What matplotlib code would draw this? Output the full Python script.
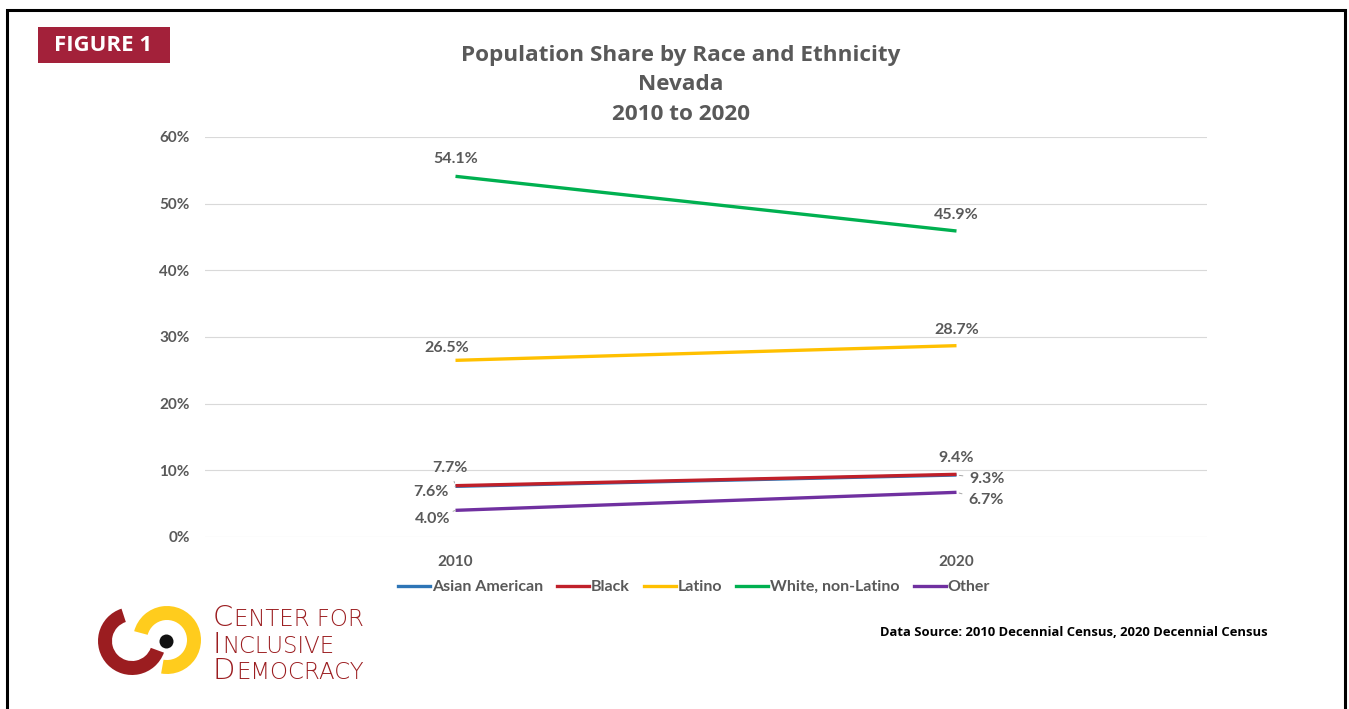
import matplotlib
matplotlib.use("Agg")
import matplotlib.pyplot as plt
from matplotlib.patches import Rectangle, Wedge, Circle
from matplotlib.lines import Line2D

years = ["2010", "2020"]
series = ["Asian American", "Black", "Latino", "White, non-Latino", "Other"]
asian = [7.6, 9.3]
black = [7.7, 9.4]
latino = [26.5, 28.7]
white = [54.1, 45.9]
other = [4.0, 6.7]
values = [asian, black, latino, white, other]
colors = ["#2E75B6", "#C0202A", "#FFC000", "#00B050", "#7030A0"]
yticks = [0, 10, 20, 30, 40, 50, 60]

W, H = 1349, 709
fig = plt.figure(figsize=(W / 100, H / 100), dpi=100)
fig.patch.set_facecolor("white")

# overlay in pixel coordinates (y up)
ov = fig.add_axes([0, 0, 1, 1])
ov.set_xlim(0, W)
ov.set_ylim(0, H)
ov.axis("off")

def py(y):
    return H - y

# frame
ov.add_patch(Rectangle((6.5, py(760)), 1338, 760 - 9.5, fill=False, ec="black", lw=2.2))

# Figure 1 badge
ov.add_patch(Rectangle((38, py(63)), 132, 36, fc="#A3213A", ec="none"))
ov.text(103, py(45.5), "FIGURE 1", color="white", fontsize=16, fontweight="bold",
        family="Open Sans", ha="center", va="center")

# title
title_lines = ["Population Share by Race and Ethnicity", "Nevada", "2010 to 2020"]
for i, t in enumerate(title_lines):
    ov.text(681, py(55 + i * 29.5), t, color="#595959", fontsize=16.2, fontweight="bold",
            family="Open Sans", ha="center", va="center")

# main axes
left, right = 205 / W, 1207 / W
bottom, top = 1 - 537 / H, 1 - 137 / H
ax = fig.add_axes([left, bottom, right - left, top - bottom])
ax.set_xlim(-0.5, 1.5)
ax.set_ylim(0, 60)
for s in ax.spines.values():
    s.set_visible(False)
ax.set_yticks(yticks)
ax.set_yticklabels([f"{v}%" for v in yticks])
ax.set_xticks([0, 1])
ax.set_xticklabels(years)
ax.tick_params(length=0, labelcolor="#595959", labelsize=11)
ax.tick_params(axis="y", pad=11)
ax.tick_params(axis="x", pad=13)
for lab in ax.get_xticklabels() + ax.get_yticklabels():
    lab.set_fontweight("bold")
    lab.set_family("Lato")
ax.grid(axis="y", color="#D9D9D9", lw=0.8)
ax.set_axisbelow(True)

xs = [0, 1]
order = [0, 2, 3, 4, 1]  # draw Black on top of Asian
for i in order:
    ax.plot(xs, values[i], color=colors[i], lw=2.4, solid_capstyle="butt", zorder=3)

label_kw = dict(color="#595959", fontsize=11.5, fontweight="bold", family="Lato",
                ha="center", va="center", textcoords="offset pixels")
leader = dict(arrowstyle="-", color="#A6A6A6", lw=0.7, shrinkA=3, shrinkB=2)
# (series index, point index, dx, dy, leader)
offsets = [
    (3, 0, 0, 17, False), (3, 1, 0, 16, False),
    (2, 0, -9, 12, False), (2, 1, 0, 16, False),
    (1, 0, -6, 18, True), (0, 0, -25, -6, True),
    (1, 1, 0, 16, False), (0, 1, 31, -4, True),
    (4, 0, -23, -9, True), (4, 1, 30, -8, True),
]
for si, pi, dx, dy, ld in offsets:
    v = values[si][pi]
    kw = dict(label_kw)
    if ld:
        kw["arrowprops"] = leader
    ax.annotate(f"{v:.1f}%", xy=(xs[pi], v), xytext=(dx, dy), zorder=5, **kw)

# legend
handles = [Line2D([0], [0], color=c, lw=2.4) for c in colors]
leg = fig.legend(handles, series, loc="center", bbox_to_anchor=(694 / W, 1 - 587 / H),
                 ncol=5, frameon=False, handlelength=2.0, handletextpad=0.1,
                 columnspacing=0.9, prop=dict(family="Lato", weight="bold", size=11.5))
for t in leg.get_texts():
    t.set_color("#595959")

# logo
red = "#9B1D20"
ov.add_patch(Wedge((132, py(641)), 34, 108, 340, width=14, fc=red, ec="none"))
ov.add_patch(Wedge((167, py(640)), 34, -100, 165, width=14, fc="#FFCC1D", ec="none"))
ov.add_patch(Circle((166.5, py(641.5)), 7, fc="#111111", ec="none"))

fig.canvas.draw()
renderer = fig.canvas.get_renderer()
logo_lines = [("C", "ENTER FOR", 626), ("I", "NCLUSIVE", 653), ("D", "EMOCRACY", 679)]
for big, small, yb in logo_lines:
    t = ov.text(213, py(yb), big, color=red, fontsize=21, family="DejaVu Sans",
                fontweight="light", ha="left", va="baseline")
    bb = t.get_window_extent(renderer)
    ov.text(bb.x1 + 1, py(yb), small, color=red, fontsize=16.5, family="DejaVu Sans",
            fontweight="light", ha="left", va="baseline")

# data source
ov.text(880, py(633), "Data Source: 2010 Decennial Census, 2020 Decennial Census",
        color="black", fontsize=9.35, fontweight="bold", family="Open Sans",
        ha="left", va="center")

fig.savefig("out.png", dpi=100, facecolor="white")
